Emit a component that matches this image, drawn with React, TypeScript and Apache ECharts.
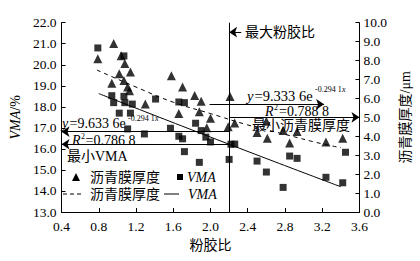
import { useEffect, useRef } from 'react';
import * as echarts from 'echarts';

// x-axis ticks (粉胶比)
const xMin = 0.4;
const xMax = 3.6;
const xStep = 0.4;
// left axis VMA/%
const vmaMin = 13;
const vmaMax = 22;
// right axis 沥青膜厚度/μm
const filmMin = 0;
const filmMax = 10;

// 沥青膜厚度 points (triangles, right axis)
const filmX = [0.79, 0.96, 1.04, 1.08, 1.14, 1.02, 1.07, 0.94, 1.11, 1.13, 1.58, 1.7, 1.83, 1.9, 1.3, 1.66, 1.88, 2.0, 1.96, 2.21, 2.19, 2.26, 2.5, 2.6, 2.61, 2.78, 2.85, 2.93, 3.24, 3.42];
const filmY = [8.1, 8.9, 8.25, 7.85, 7.4, 7.3, 6.95, 6.8, 6.6, 6.4, 7.2, 6.6, 6.15, 5.85, 5.7, 5.2, 5.3, 4.95, 4.45, 6.1, 4.5, 4.7, 4.2, 4.8, 3.9, 4.3, 3.65, 4.25, 3.7, 3.9];

// VMA points (squares, left axis)
const vmaX = [0.79, 1.07, 0.94, 0.96, 1.07, 1.08, 1.16, 1.02, 1.14, 1.11, 1.41, 1.66, 1.72, 1.84, 1.57, 1.9, 1.29, 1.66, 1.7, 1.95, 2.0, 1.72, 1.88, 2.2, 2.22, 2.26, 2.5, 2.6, 2.78, 2.85, 2.93, 3.24, 3.42, 3.45];
const vmaY = [20.8, 20.42, 18.53, 18.2, 18.5, 18.2, 18.13, 17.7, 17.7, 16.95, 18.37, 18.23, 18.2, 17.22, 16.98, 16.87, 16.71, 16.6, 16.48, 16.56, 16.33, 15.87, 15.36, 15.5, 16.22, 16.23, 15.42, 14.9, 14.17, 15.66, 15.55, 14.65, 14.39, 15.84];

// trend lines
const filmFitX = [0.78, 1.2, 1.6, 2.0, 2.4, 2.8, 3.2, 3.4];
const filmFitY = [7.5, 6.6, 5.8, 5.2, 4.6, 4.1, 3.6, 3.4];
const vmaFitX = [0.8, 2.2, 3.4];
const vmaFitY = [18.63, 16.22, 14.2];

// reference lines
const maxRatio = 2.2;
const leftEqLevel = 16.82;
const minVMA = 16.22;
const rightEqLevel = 18.12; // on VMA scale
const minFilmOnVma = 17.5; // 5.0 μm on film scale
const maxRatioArrowY = 21.55;

const SERIF = '"Liberation Serif", "Noto Sans CJK SC", serif';

function pairs(xs: number[], ys: number[]) {
  return xs.map((x, i) => [x, ys[i]]);
}

export default function App() {
  const ref = useRef<HTMLDivElement>(null);
  useEffect(() => {
    document.body.style.margin = '0';
    if (!ref.current) return;
    const chart = echarts.init(ref.current, undefined, { renderer: 'svg' });
    const axisCommon = {
      axisLine: { show: true, lineStyle: { color: '#000', width: 1 } },
      axisTick: { show: true, inside: true, length: 4, lineStyle: { color: '#000' } },
      splitLine: { show: false },
      axisLabel: {
        color: '#000',
        fontSize: 13.5,
        fontFamily: SERIF,
        formatter: (v: number) => v.toFixed(1),
      },
    };
    const txt = (text: string, x: number, y: number, extra: any = {}) => ({
      type: 'text',
      x,
      y,
      silent: true,
      style: {
        text,
        fill: '#000',
        fontSize: 14,
        fontFamily: SERIF,
        verticalAlign: 'middle',
        align: 'left',
        ...extra,
      },
    });
    const arrowLine = (from: number[], to: number[]) => [
      { coord: from, symbol: 'none' },
      { coord: to, symbol: 'arrow' },
    ];
    chart.setOption({
      animation: false,
      backgroundColor: '#fff',
      grid: { left: 57, right: 59, top: 22.7, bottom: 49 },
      xAxis: {
        type: 'value',
        min: xMin,
        max: xMax,
        interval: xStep,
        name: '粉胶比',
        nameLocation: 'middle',
        nameGap: 25,
        nameTextStyle: { color: '#000', fontSize: 14, fontFamily: SERIF },
        ...axisCommon,
        axisLabel: { ...axisCommon.axisLabel, margin: 8 },
      },
      yAxis: [
        {
          type: 'value',
          min: vmaMin,
          max: vmaMax,
          interval: 1,
          position: 'left',
          name: '{i|VMA}/%',
          nameLocation: 'middle',
          nameGap: 33,
          nameRotate: 90,
          nameTextStyle: {
            color: '#000',
            fontSize: 14,
            fontFamily: SERIF,
            rich: { i: { fontStyle: 'italic', fontSize: 14, fontFamily: SERIF, color: '#000' } },
          },
          ...axisCommon,
          axisLabel: { ...axisCommon.axisLabel, margin: 5 },
        },
        {
          type: 'value',
          min: filmMin,
          max: filmMax,
          interval: 1,
          position: 'right',
          name: '沥青膜厚度/μm',
          nameLocation: 'middle',
          nameGap: 31,
          nameRotate: 90,
          nameTextStyle: { color: '#000', fontSize: 14, fontFamily: SERIF },
          ...axisCommon,
          axisLabel: { ...axisCommon.axisLabel, margin: 4 },
        },
      ],
      series: [
        {
          name: '沥青膜厚度',
          type: 'scatter',
          yAxisIndex: 1,
          symbol: 'triangle',
          symbolSize: 9,
          itemStyle: { color: '#000' },
          data: pairs(filmX, filmY),
          silent: true,
        },
        {
          name: 'VMA',
          type: 'scatter',
          yAxisIndex: 0,
          symbol: 'rect',
          symbolSize: 7,
          itemStyle: { color: '#000' },
          data: pairs(vmaX, vmaY),
          silent: true,
          markLine: {
            silent: true,
            animation: false,
            symbolSize: 8,
            label: { show: false },
            lineStyle: { color: '#000', type: 'solid', width: 1 },
            emphasis: { disabled: true },
            data: [
              [
                { coord: [maxRatio, vmaMin], symbol: 'none' },
                { coord: [maxRatio, vmaMax], symbol: 'none' },
              ],
              arrowLine([maxRatio, leftEqLevel], [xMin, leftEqLevel]),
              arrowLine([maxRatio, minVMA], [xMin, minVMA]),
              arrowLine([1.99, rightEqLevel], [3.22, rightEqLevel]),
              arrowLine([maxRatio, minFilmOnVma], [xMax, minFilmOnVma]),
              arrowLine([2.33, maxRatioArrowY], [maxRatio, maxRatioArrowY]),
            ],
          },
        },
        {
          name: '沥青膜厚度拟合',
          type: 'line',
          yAxisIndex: 1,
          smooth: true,
          showSymbol: false,
          symbol: 'none',
          lineStyle: { color: '#000', width: 1, type: [4, 4] },
          data: pairs(filmFitX, filmFitY),
          silent: true,
        },
        {
          name: 'VMA拟合',
          type: 'line',
          yAxisIndex: 0,
          smooth: true,
          showSymbol: false,
          symbol: 'none',
          lineStyle: { color: '#000', width: 1 },
          data: pairs(vmaFitX, vmaFitY),
          silent: true,
        },
      ],
      graphic: [
        // annotations
        txt('最大粉胶比', 245, 32.5),
        txt('y', 62, 123.5, { fontStyle: 'italic' }),
        txt('=9.633 6e', 69.5, 123.5),
        txt('-0.294 1', 128, 118, { fontSize: 8 }),
        txt('x', 155, 118, { fontSize: 8, fontStyle: 'italic' }),
        txt('R', 72, 140, { fontStyle: 'italic' }),
        txt('2', 81, 136, { fontSize: 8 }),
        txt('=0.786 8', 85.5, 140),
        txt('最小VMA', 67, 156),
        txt('y', 247, 96, { fontStyle: 'italic', fontSize: 14.5 }),
        txt('=9.333 6e', 254.5, 96, { fontSize: 14.5 }),
        txt('-0.294 1', 315, 89, { fontSize: 8 }),
        txt('x', 342, 89, { fontSize: 8, fontStyle: 'italic' }),
        txt('R', 265, 111, { fontStyle: 'italic' }),
        txt('2', 274, 107.5, { fontSize: 8 }),
        txt('=0.788 8', 279, 111),
        txt('最小沥青膜厚度', 252, 125),
        // legend
        {
          type: 'polygon',
          silent: true,
          shape: { points: [[72, 181], [80, 181], [76, 173]] },
          style: { fill: '#000' },
        },
        txt('沥青膜厚度', 90, 177),
        {
          type: 'rect',
          silent: true,
          shape: { x: 177, y: 174, width: 6, height: 6 },
          style: { fill: '#000' },
        },
        txt('VMA', 187, 177, { fontStyle: 'italic' }),
        {
          type: 'line',
          silent: true,
          shape: { x1: 63, y1: 194, x2: 84, y2: 194 },
          style: { stroke: '#000', lineWidth: 1, lineDash: [4, 3] },
        },
        txt('沥青膜厚度', 90, 194),
        {
          type: 'line',
          silent: true,
          shape: { x1: 164, y1: 194, x2: 179, y2: 194 },
          style: { stroke: '#000', lineWidth: 1 },
        },
        txt('VMA', 188, 194, { fontStyle: 'italic' }),
      ],
    });
    return () => chart.dispose();
  }, []);
  return <div ref={ref} style={{ width: 420, height: 261 }} />;
}
